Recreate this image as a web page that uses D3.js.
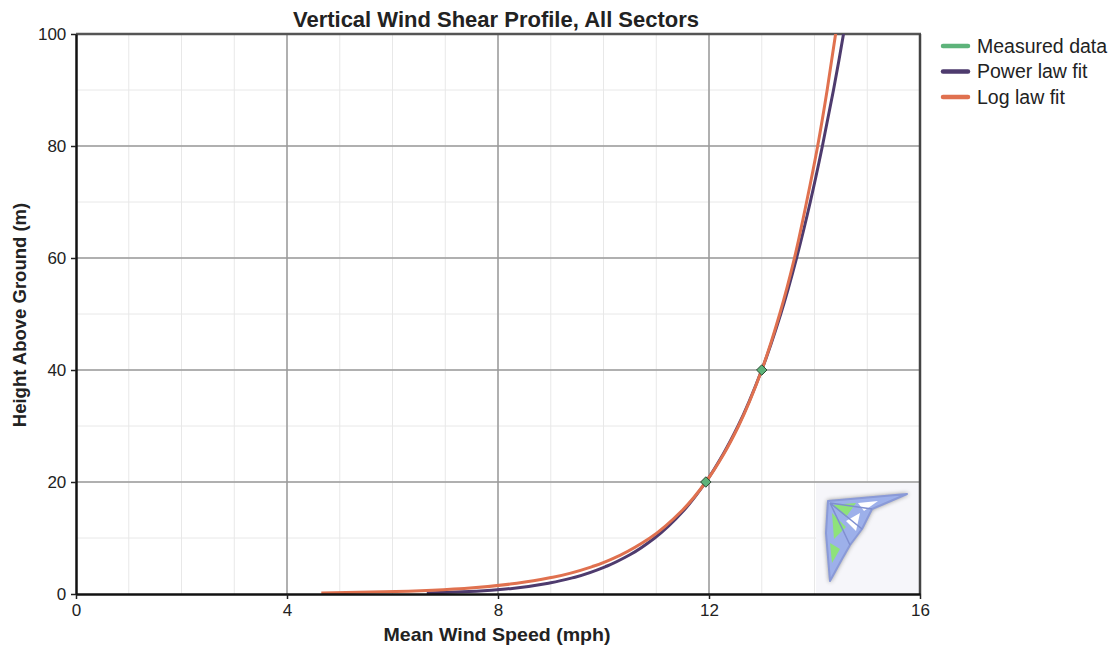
<!DOCTYPE html>
<html>
<head>
	<title> wind shear </title>
	<script src="https://d3js.org/d3.v7.min.js"></script>
	<style>
		body { margin: 0; background: #fff; }
		text { font-family: Arial, "Liberation Sans", sans-serif; }
	</style>
</head>
<body>
	<svg width="1120" height="648"></svg>
	<script type="text/javascript">
		// measured points
		let measuredSpeed = [11.94, 13.00];
		let measuredHeight = [20, 40];
		// fit curves
		let fitHeight = [0.17, 0.5, 1, 2, 3, 5, 7, 10, 15, 20, 25, 30, 40, 50, 60, 70, 80, 90, 100, 104];
		let powerSpeed = [6.65, 7.59, 8.27, 9.00, 9.46, 10.07, 10.50, 10.97, 11.53, 11.94, 12.27, 12.55, 13.00, 13.36, 13.66, 13.92, 14.15, 14.36, 14.55, 14.62];
		let logSpeed = [4.65, 6.30, 7.36, 8.42, 9.04, 9.82, 10.33, 10.88, 11.50, 11.94, 12.28, 12.56, 13.00, 13.34, 13.62, 13.85, 14.06, 14.24, 14.40, 14.46];
		let xTicks = [0, 4, 8, 12, 16];
		let yTicks = [0, 20, 40, 60, 80, 100];
		let legendNames = ["Measured data", "Power law fit", "Log law fit"];
		let legendColors = ["#5db37a", "#4e3b6e", "#e0714f"];

		let svg = d3.select("svg");
		let pLeft = 76, pRight = 920, pTop = 34, pBottom = 594;
		let x = d3.scaleLinear().domain([0, 16]).range([pLeft, pRight]);
		let y = d3.scaleLinear().domain([0, 100]).range([pBottom, pTop]);

		// minor grid
		svg.append("g").selectAll("line").data(d3.range(1, 16)).join("line")
			.attr("x1", d => x(d)).attr("x2", d => x(d))
			.attr("y1", pTop).attr("y2", pBottom)
			.attr("stroke", "#e8e8e8").attr("stroke-width", 1);
		svg.append("g").selectAll("line").data(d3.range(10, 100, 10)).join("line")
			.attr("y1", d => y(d)).attr("y2", d => y(d))
			.attr("x1", pLeft).attr("x2", pRight)
			.attr("stroke", "#e8e8e8").attr("stroke-width", 1);
		// major grid
		svg.append("g").selectAll("line").data(xTicks.slice(1, -1)).join("line")
			.attr("x1", d => x(d)).attr("x2", d => x(d))
			.attr("y1", pTop).attr("y2", pBottom)
			.attr("stroke", "#9a9a9a").attr("stroke-width", 1.5);
		svg.append("g").selectAll("line").data(yTicks.slice(1, -1)).join("line")
			.attr("y1", d => y(d)).attr("y2", d => y(d))
			.attr("x1", pLeft).attr("x2", pRight)
			.attr("stroke", "#9a9a9a").attr("stroke-width", 1.5);

		// logo in corner
		let logo = svg.append("g").attr("transform", "translate(" + (pRight - 104) + "," + (pBottom - 111) + ")");
		logo.append("rect").attr("width", 103).attr("height", 110).attr("fill", "#f6f6fa");
		logo.append("path")
			.attr("d", "M12,18 L91,11 L56,26 L46,46 L34,62 L26,76 L14,98 L10,50 Z")
			.attr("fill", "#9db0ea").attr("stroke", "#8a9ad8").attr("stroke-width", 2)
			.attr("stroke-linejoin", "round").style("filter", "drop-shadow(0px 0px 2px #999)");
		logo.append("path").attr("d", "M16,22 L40,20 L30,34 Z").attr("fill", "#8ee27a");
		logo.append("path").attr("d", "M42,20 L62,18 L48,28 Z").attr("fill", "#ffffff");
		logo.append("path").attr("d", "M16,30 L30,44 L18,56 Z").attr("fill", "#8ee27a");
		logo.append("path").attr("d", "M14,60 L24,66 L16,80 Z").attr("fill", "#8ee27a");
		logo.append("path").attr("d", "M30,38 L44,30 L40,48 Z").attr("fill", "#ffffff");
		logo.append("path").attr("d", "M14,20 L46,46 M14,20 L34,62 M14,20 L56,26")
			.attr("stroke", "#7f8fd0").attr("stroke-width", 1.5).attr("fill", "none");

		// frame
		svg.append("line").attr("x1", pLeft).attr("x2", pRight + 1).attr("y1", pTop).attr("y2", pTop)
			.attr("stroke", "#555").attr("stroke-width", 2.5);
		svg.append("line").attr("x1", pRight).attr("x2", pRight).attr("y1", pTop).attr("y2", pBottom)
			.attr("stroke", "#444").attr("stroke-width", 2.5);

		// curves
		svg.append("clipPath").attr("id", "clip").append("rect")
			.attr("x", pLeft).attr("y", pTop).attr("width", pRight - pLeft).attr("height", pBottom - pTop);
		let line = d3.line().x(d => x(d[0])).y(d => y(d[1])).curve(d3.curveMonotoneY);
		let plot = svg.append("g").attr("clip-path", "url(#clip)");
		plot.append("path").datum(d3.zip(powerSpeed, fitHeight))
			.attr("fill", "none").attr("stroke", legendColors[1]).attr("stroke-width", 3)
			.attr("d", line);
		plot.append("path").datum(d3.zip(logSpeed, fitHeight))
			.attr("fill", "none").attr("stroke", legendColors[2]).attr("stroke-width", 3)
			.attr("d", line);
		svg.append("g").selectAll("path").data(d3.zip(measuredSpeed, measuredHeight)).join("path")
			.attr("d", d3.symbol().type(d3.symbolDiamond2).size(70))
			.attr("transform", d => "translate(" + x(d[0]) + "," + y(d[1]) + ")")
			.attr("fill", legendColors[0]).attr("stroke", "#2d4a33").attr("stroke-width", 1);

		// axes
		let xAxis = svg.append("g").attr("transform", "translate(0," + pBottom + ")")
			.call(d3.axisBottom(x).tickValues(xTicks).tickSize(5).tickSizeOuter(0));
		let yAxis = svg.append("g").attr("transform", "translate(" + pLeft + ",0)")
			.call(d3.axisLeft(y).tickValues(yTicks).tickSize(5).tickSizeOuter(0));
		[xAxis, yAxis].forEach(a => {
			a.select(".domain").attr("stroke", "#111").attr("stroke-width", 2.5);
			a.selectAll(".tick line").attr("stroke", "#222").attr("stroke-width", 1.5);
			a.selectAll(".tick text").attr("fill", "#222").style("font-size", "17px")
				.style("font-family", "Arial, 'Liberation Sans', sans-serif");
		});
		xAxis.selectAll(".tick text").attr("dy", "0.8em");
		yAxis.selectAll(".tick text").attr("dx", "-0.1em");

		// titles
		svg.append("text").attr("x", 496).attr("y", 27).attr("text-anchor", "middle")
			.style("font-size", "22px").style("font-weight", "bold").attr("fill", "#222")
			.text("Vertical Wind Shear Profile, All Sectors");
		svg.append("text").attr("x", 497).attr("y", 641).attr("text-anchor", "middle")
			.style("font-size", "19px").style("font-weight", "bold").attr("fill", "#222")
			.attr("textLength", 227).attr("lengthAdjust", "spacingAndGlyphs")
			.text("Mean Wind Speed (mph)");
		svg.append("text").attr("transform", "translate(26," + 315 + ") rotate(-90)")
			.attr("text-anchor", "middle")
			.style("font-size", "18.5px").style("font-weight", "bold").attr("fill", "#222")
			.text("Height Above Ground (m)");

		// legend
		let legend = svg.append("g").selectAll("g").data(legendNames).join("g")
			.attr("transform", (d, i) => "translate(943," + (46 + i * 25.5) + ")");
		legend.append("line").attr("x1", 0).attr("x2", 25).attr("y1", 0).attr("y2", 0)
			.attr("stroke", (d, i) => legendColors[i]).attr("stroke-width", 4.5).attr("stroke-linecap", "round");
		legend.append("text").attr("x", 34).attr("y", 0).attr("dy", "0.35em")
			.style("font-size", "19.5px").attr("fill", "#222").text(d => d);
	</script>
</body>
</html>
